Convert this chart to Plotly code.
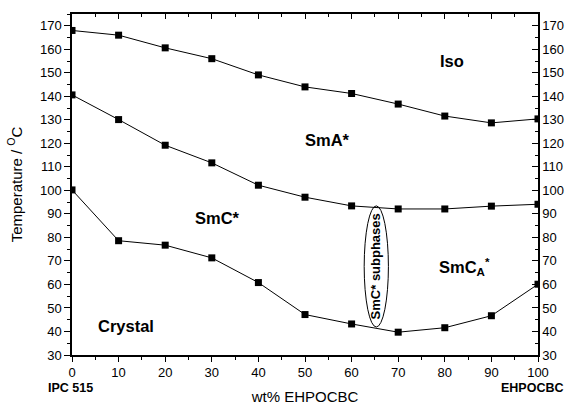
import plotly.graph_objects as go

wt = [0, 10, 20, 30, 40, 50, 60, 70, 80, 90, 100]
iso_line = [168, 166, 160.6, 156, 149.1, 144, 141.2, 136.7, 131.6, 128.7, 130.4]
sma_line = [140.6, 130.1, 119.2, 111.7, 102.2, 97.1, 93.4, 92.1, 92.1, 93.3, 94.1]
cryst_line = [100.2, 78.6, 76.7, 71.3, 60.8, 47.2, 43.2, 39.7, 41.6, 46.7, 60.1]

y_ticks = list(range(30, 171, 10))
x_ticks = list(range(0, 101, 10))

FONT = "Liberation Sans, Arial, sans-serif"

W, H = 568, 405
L, R, T, B = 72, 538, 14, 355

fig = go.Figure()
for ys in (iso_line, sma_line, cryst_line):
    fig.add_trace(go.Scatter(
        x=wt, y=ys, mode="lines+markers",
        line=dict(color="black", width=1),
        marker=dict(symbol="square", size=7, color="black"),
        showlegend=False, hoverinfo="skip"))

# invisible trace to activate mirror axes
fig.add_trace(go.Scatter(x=[0], y=[30], xaxis="x2", yaxis="y2", mode="markers",
                         marker=dict(opacity=0), showlegend=False, hoverinfo="skip"))

axis_common = dict(showline=True, linecolor="black", linewidth=1.5, showgrid=False,
                   zeroline=False, tickcolor="black", tickwidth=1.2, automargin=False,
                   tickfont=dict(family=FONT, size=13, color="black"))

fig.update_layout(
    width=W, height=H,
    margin=dict(l=L, r=W - R, t=T, b=H - B),
    paper_bgcolor="white", plot_bgcolor="white",
    font=dict(family=FONT, color="black"),
    xaxis=dict(range=[0, 100], tickvals=x_ticks, ticks="outside", ticklen=5,
               minor=dict(dtick=5, tick0=0, ticks="outside", ticklen=3, tickcolor="black"),
               title=dict(text="wt% EHPOCBC", font=dict(family=FONT, size=15), standoff=12),
               **axis_common),
    xaxis2=dict(range=[0, 100], tickvals=x_ticks, ticks="inside", ticklen=5,
                overlaying="x", side="top", showticklabels=False, matches="x",
                minor=dict(dtick=5, tick0=0, ticks="inside", ticklen=3, tickcolor="black"),
                **axis_common),
    yaxis=dict(range=[30, 175], tickvals=y_ticks, ticks="outside", ticklen=6,
               minor=dict(dtick=5, tick0=30, ticks="outside", ticklen=3, tickcolor="black"),
               title=dict(text="Temperature / <sup>O</sup>C", font=dict(family=FONT, size=15), standoff=14),
               **axis_common),
    yaxis2=dict(range=[30, 175], tickvals=y_ticks, ticks="inside", ticklen=6,
                overlaying="y", side="right", matches="y", showticklabels=True,
                minor=dict(dtick=5, tick0=30, ticks="inside", ticklen=3, tickcolor="black"),
                **axis_common),
)

fig.add_shape(type="circle", xref="x", yref="y", x0=62.7, x1=67.9, y0=41.9, y1=93.4,
              line=dict(color="black", width=1))

labels = [
    ("Iso", 81.5, 155.2),
    ("SmA*", 54.8, 121.5),
    ("SmC*", 31.3, 88.3),
    ("SmC<sub>A</sub><sup>*</sup>", 84.2, 67.5),
    ("Crystal", 11.6, 42.3),
]
for txt, x, y in labels:
    fig.add_annotation(x=x, y=y, xref="x", yref="y", text=f"<b>{txt}</b>", showarrow=False,
                       xanchor="center", yanchor="middle",
                       font=dict(family=FONT, size=16.5, color="black"))

fig.add_annotation(x=65.2, y=67.6, xref="x", yref="y", text="<b>SmC* subphases</b>",
                   textangle=-90, showarrow=False, xanchor="center", yanchor="middle",
                   font=dict(family=FONT, size=13, color="black"))


def px2paper(px, py):
    return (px - L) / (R - L), (B - py) / (B - T)


for txt, px, py in (("IPC 515", 70, 388), ("EHPOCBC", 532, 388)):
    xp, yp = px2paper(px, py)
    fig.add_annotation(x=xp, y=yp, xref="paper", yref="paper", text=f"<b>{txt}</b>",
                       showarrow=False, xanchor="center", yanchor="middle",
                       font=dict(family=FONT, size=12.5, color="black"))

fig.write_html(
    "out.html",
    config={"displayModeBar": False},
    post_script="document.body.style.margin='0';document.body.style.overflow='hidden';",
)
